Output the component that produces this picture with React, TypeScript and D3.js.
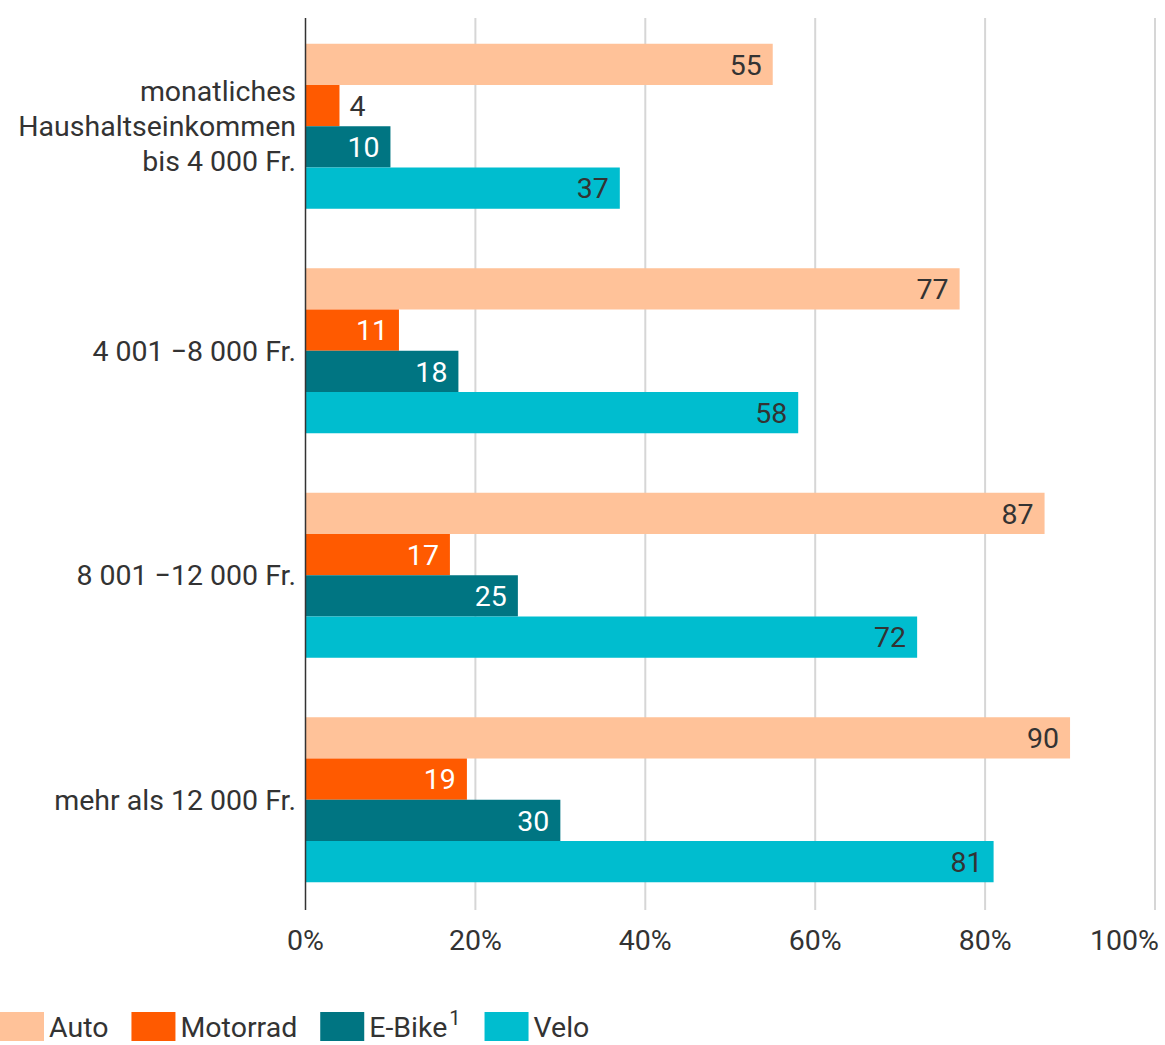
import React, { useEffect, useRef } from "react";
import * as d3 from "d3";

// Income brackets (multi-line labels are split into lines)
const categories: string[][] = [
  ["monatliches", "Haushaltseinkommen", "bis 4 000 Fr."],
  ["4 001 −8 000 Fr."],
  ["8 001 −12 000 Fr."],
  ["mehr als 12 000 Fr."],
];

const seriesNames = ["Auto", "Motorrad", "E-Bike", "Velo"];
const autoValues = [55, 77, 87, 90];
const motorradValues = [4, 11, 17, 19];
const eBikeValues = [10, 18, 25, 30];
const veloValues = [37, 58, 72, 81];
const xTicks = [0, 20, 40, 60, 80, 100];

const seriesColors = ["#ffc299", "#ff5a00", "#007582", "#00bdcf"];
const valueTextColors = ["#333333", "#ffffff", "#ffffff", "#333333"];

const W = 1165;
const H = 1045;
const FONT = "Roboto, 'Noto Sans', sans-serif";
const FS = 28.5;

export default function App() {
  const ref = useRef<SVGSVGElement>(null);

  useEffect(() => {
    const svg = d3.select(ref.current);
    svg.selectAll("*").remove();

    const seriesValues = [autoValues, motorradValues, eBikeValues, veloValues];
    const catIdx = categories.map((_, i) => String(i));

    const x = d3.scaleLinear().domain([0, 100]).range([305.5, 1155]);
    const y0 = d3
      .scaleBand<string>()
      .domain(catIdx)
      .range([14, 912])
      .paddingInner(0.265)
      .paddingOuter(0.1325);
    const y1 = d3
      .scaleBand<string>()
      .domain(seriesNames)
      .range([0, y0.bandwidth()]);

    const plotTop = 18;
    const plotBottom = 910;

    // vertical gridlines
    svg
      .append("g")
      .selectAll("line")
      .data(xTicks.filter((t) => t !== 0))
      .join("line")
      .attr("x1", (d) => x(d))
      .attr("x2", (d) => x(d))
      .attr("y1", plotTop)
      .attr("y2", plotBottom)
      .attr("stroke", "#d6d6d6")
      .attr("stroke-width", 2);

    // tick labels, kept inside the right edge
    svg
      .append("g")
      .selectAll("text")
      .data(xTicks)
      .join("text")
      .attr("x", (d) => x(d))
      .attr("y", 940)
      .attr("dy", "0.35em")
      .attr("text-anchor", "middle")
      .attr("font-family", FONT)
      .attr("font-size", FS)
      .attr("fill", "#333")
      .text((d) => `${d}%`)
      .each(function (d) {
        const el = this as SVGTextElement;
        const w = el.getComputedTextLength();
        if (x(d) + w / 2 > W - 6) {
          d3.select(el).attr("text-anchor", "end").attr("x", W - 6);
        }
      });

    // bars
    const groups = svg
      .append("g")
      .selectAll("g")
      .data(catIdx)
      .join("g")
      .attr("transform", (d) => `translate(0,${y0(d)})`);

    groups.each(function (c) {
      const ci = +c;
      const g = d3.select(this);
      seriesNames.forEach((s, si) => {
        const v = seriesValues[si][ci];
        const by = y1(s)!;
        const bw = x(v) - x(0);
        g.append("rect")
          .attr("x", x(0))
          .attr("y", by)
          .attr("width", bw)
          .attr("height", y1.bandwidth())
          .attr("fill", seriesColors[si]);
        const t = g
          .append("text")
          .attr("y", by + y1.bandwidth() / 2)
          .attr("dy", "0.36em")
          .attr("font-family", FONT)
          .attr("font-size", FS)
          .text(String(v));
        const tw = (t.node() as SVGTextElement).getComputedTextLength();
        if (tw + 24 < bw) {
          t.attr("x", x(v) - 11)
            .attr("text-anchor", "end")
            .attr("fill", valueTextColors[si]);
        } else {
          t.attr("x", x(v) + 10)
            .attr("text-anchor", "start")
            .attr("fill", "#333");
        }
      });

      // category label
      const lines = categories[ci];
      const lh = 35;
      const cy = y0.bandwidth() / 2;
      const tx = g
        .append("text")
        .attr("text-anchor", "end")
        .attr("font-family", FONT)
        .attr("font-size", FS)
        .attr("fill", "#333");
      lines.forEach((ln, li) => {
        tx.append("tspan")
          .attr("x", 296)
          .attr("y", cy + (li - (lines.length - 1) / 2) * lh)
          .attr("dy", "0.35em")
          .text(ln);
      });
    });

    // axis line
    svg
      .append("line")
      .attr("x1", x(0))
      .attr("x2", x(0))
      .attr("y1", plotTop)
      .attr("y2", plotBottom)
      .attr("stroke", "#333")
      .attr("stroke-width", 1.5);

    // legend
    const lg = svg.append("g");
    let lx = 0;
    seriesNames.forEach((s, si) => {
      lg.append("rect")
        .attr("x", lx)
        .attr("y", 1012)
        .attr("width", 44)
        .attr("height", 29)
        .attr("fill", seriesColors[si]);
      const t = lg
        .append("text")
        .attr("x", lx + 49)
        .attr("y", 1027)
        .attr("dy", "0.35em")
        .attr("font-family", FONT)
        .attr("font-size", FS)
        .attr("fill", "#333")
        .text(s);
      if (s === "E-Bike") {
        t.append("tspan")
          .attr("font-size", 20)
          .attr("dx", 2)
          .attr("dy", "-0.6em")
          .text("1");
      }
      const tw = (t.node() as SVGTextElement).getComputedTextLength();
      lx += 49 + tw + (s === "E-Bike" ? 26 : 23);
    });
  }, []);

  return (
    <svg
      ref={ref}
      width={W}
      height={H}
      style={{ position: "absolute", left: 0, top: 0, background: "#fff" }}
    />
  );
}
